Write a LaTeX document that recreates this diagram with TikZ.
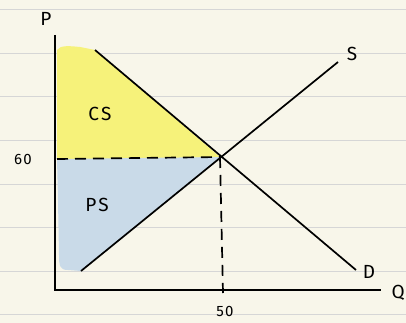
\documentclass[tikz,border=0pt]{standalone}
\usepackage{fontspec}
\setmainfont{Fira Sans}
\begin{document}
\begin{tikzpicture}[x=1pt,y=-1pt,
  axis/.style={line width=1.8pt, black},
  curve/.style={line width=1.7pt, black},
  guide/.style={line width=1.7pt, black, dash pattern=on 11pt off 7pt},
  rule/.style={line width=1pt, color=rulegray},
  lbl/.style={font=\fontsize{19}{19}\selectfont\addfontfeature{LetterSpace=12}, inner sep=0pt},
  small/.style={font=\fontsize{15}{15}\selectfont\addfontfeature{LetterSpace=8}, inner sep=0pt}]
\definecolor{paper}{HTML}{F8F6EA}
\definecolor{rulegray}{HTML}{D6D6D6}
\definecolor{csyellow}{HTML}{F6F27A}
\definecolor{psblue}{HTML}{C9DAE8}
\useasboundingbox (0,0) rectangle (406,323);
\fill[paper] (0,0) rectangle (406,323);
\foreach \yy in {10,53.5,97,140.5,184,227.5,271,314.5}
  \draw[rule] (0,\yy) -- (406,\yy);
% coordinates
\coordinate (O) at (55,290);
\coordinate (Ytop) at (55,35);
\coordinate (Xend) at (381,290);
\coordinate (Dtop) at (95,50);
\coordinate (Dbot) at (356,270);
\coordinate (Sbot) at (81,271);
\coordinate (Stop) at (338,62);
\coordinate (E) at (220,157);
\coordinate (Pa) at (57,159);
\coordinate (Qa) at (223,293);
% fills
\fill[csyellow] (57,50) .. controls (60,45) and (70,46) .. (80,47) -- (Dtop) -- (E) -- (57,161) -- cycle;
\fill[psblue] (57,159) -- (E) -- (Sbot) -- (68,270) .. controls (60,270) and (59,266) .. (59,255) -- (58,200) -- cycle;
% axes
\draw[axis] (Ytop) -- (O) -- (Xend);
% curves
\draw[curve] (Dtop) -- (Dbot);
\draw[curve] (Sbot) -- (Stop);
\draw[guide] (Pa) -- (E);
\draw[guide] (E) -- (Qa);
% labels
\node[lbl] (lp) at (46,19) {P};
\node[lbl] (ls) at (352,54) {S};
\node[lbl] (ld) at (369,272) {D};
\node[lbl, anchor=east] (lq) at (405,293) {Q};
\node[small] (l50) at (225,311) {50};
\node[small] (l60) at (23,159) {60};
\node[lbl] (lcs) at (100,114) {CS};
\node[lbl] (lps) at (97,205) {PS};
\end{tikzpicture}
\end{document}
